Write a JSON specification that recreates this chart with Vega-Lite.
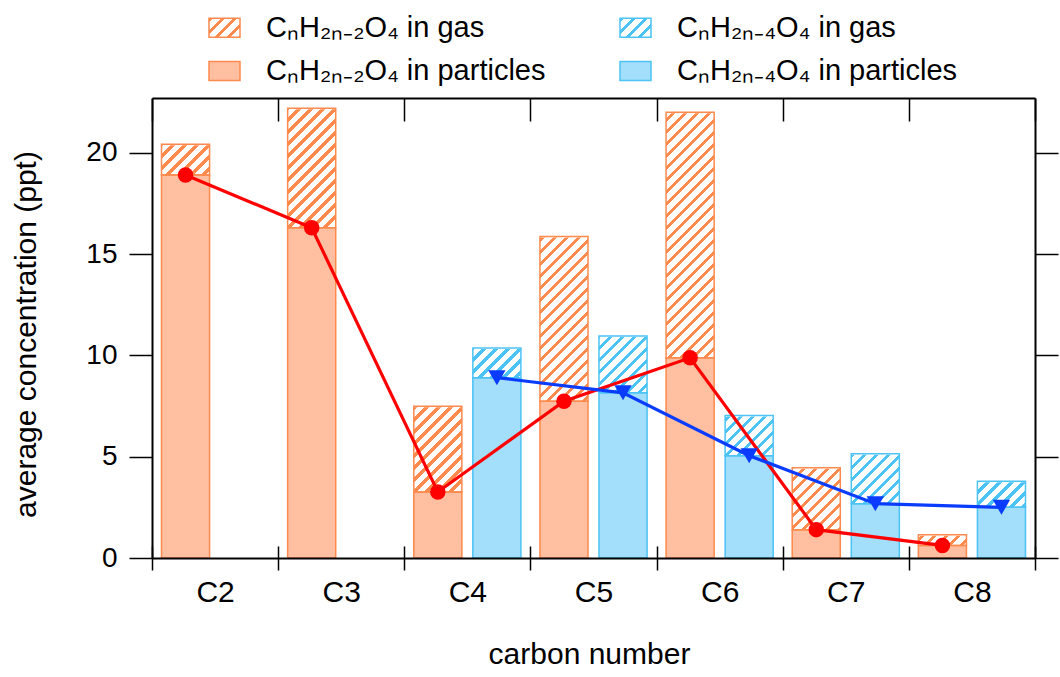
{
  "$schema": "https://vega.github.io/schema/vega-lite/v6.json",
  "width": 883,
  "height": 460,
  "autosize": {"type": "none"},
  "padding": {"left": 152, "top": 98, "right": 25, "bottom": 119},
  "background": "white",
  "config": {
    "view": {"stroke": null},
    "axis": {"labelFont": "Liberation Sans", "titleFont": "Liberation Sans", "labelColor": "#000", "titleColor": "#000", "tickColor": "#000", "domainColor": "#000", "domainWidth": 2, "tickWidth": 1.5, "grid": false, "titleFontWeight": "normal"},
    "legend": {"labelFont": "Liberation Sans", "labelColor": "#000"}
  },
  "datasets": {
    "bars": [
      {"c": "C2", "fam": "a", "plabel": "CₙH₂ₙ₋₂O₄ in particles", "part": 18.9, "total": 20.42},
      {"c": "C3", "fam": "a", "plabel": "CₙH₂ₙ₋₂O₄ in particles", "part": 16.3, "total": 22.2},
      {"c": "C4", "fam": "a", "plabel": "CₙH₂ₙ₋₂O₄ in particles", "part": 3.26, "total": 7.49},
      {"c": "C4", "fam": "b", "plabel": "CₙH₂ₙ₋₄O₄ in particles", "part": 8.9, "total": 10.36},
      {"c": "C5", "fam": "a", "plabel": "CₙH₂ₙ₋₂O₄ in particles", "part": 7.74, "total": 15.87},
      {"c": "C5", "fam": "b", "plabel": "CₙH₂ₙ₋₄O₄ in particles", "part": 8.15, "total": 10.95},
      {"c": "C6", "fam": "a", "plabel": "CₙH₂ₙ₋₂O₄ in particles", "part": 9.88, "total": 22.0},
      {"c": "C6", "fam": "b", "plabel": "CₙH₂ₙ₋₄O₄ in particles", "part": 5.05, "total": 7.03},
      {"c": "C7", "fam": "a", "plabel": "CₙH₂ₙ₋₂O₄ in particles", "part": 1.4, "total": 4.45},
      {"c": "C7", "fam": "b", "plabel": "CₙH₂ₙ₋₄O₄ in particles", "part": 2.68, "total": 5.15},
      {"c": "C8", "fam": "a", "plabel": "CₙH₂ₙ₋₂O₄ in particles", "part": 0.62, "total": 1.15},
      {"c": "C8", "fam": "b", "plabel": "CₙH₂ₙ₋₄O₄ in particles", "part": 2.5, "total": 3.79}
    ]
  },
  "data": {"name": "bars"},
  "resolve": {"axis": {"x": "independent", "y": "independent"}},
  "encoding": {
    "x": {"field": "c", "type": "nominal", "scale": {"domain": ["C2", "C3", "C4", "C5", "C6", "C7", "C8"], "paddingInner": 0, "paddingOuter": 0}},
    "xOffset": {"field": "fam", "type": "nominal", "scale": {"domain": ["a", "b"], "paddingInner": 0.186, "paddingOuter": 0.161}}
  },
  "layer": [
    {
      "mark": {"type": "bar", "strokeWidth": 0},
      "encoding": {
        "x": {"field": "c", "type": "nominal", "axis": {"orient": "bottom", "tickBand": "extent", "tickSize": 12, "labelPadding": 31, "labelBaseline": "alphabetic", "labelFontSize": 30, "labelAngle": 0, "title": "carbon number", "titleFontSize": 30, "titleX": 437, "titleY": 105, "titleBaseline": "alphabetic", "titleAlign": "center", "domain": true, "zindex": 1}},
        "y": {"datum": 22.3, "type": "quantitative", "scale": {"domain": [0, 22.7], "nice": false, "zero": true}, "axis": {"orient": "left", "values": [0, 5, 10, 15, 20], "tickSize": 23, "labelPadding": 12, "labelFontSize": 28, "title": "average concentration (ppt)", "titleFontSize": 30, "titleX": -117, "titleY": 236, "titleAngle": -90, "titleBaseline": "alphabetic", "titleAlign": "center", "domain": true, "zindex": 1}},
        "y2": {"datum": 0},
        "fill": {"condition": {"test": "datum.fam === 'b'", "value": "#4CC3F5"}, "value": "#FF8A4D"}
      }
    },
    {
      "mark": {"type": "bar", "strokeWidth": 0, "fill": {"gradient": "linear", "x1": 0, "y1": 0, "x2": 0.1164, "y2": 1.0941, "stops": [
        {"offset": 0, "color": "transparent"}, {"offset": 0.009, "color": "transparent"}, {"offset": 0.009, "color": "#ffffff"}, {"offset": 0.024, "color": "#ffffff"},
        {"offset": 0.024, "color": "transparent"}, {"offset": 0.033, "color": "transparent"}, {"offset": 0.033, "color": "#ffffff"}, {"offset": 0.048, "color": "#ffffff"},
        {"offset": 0.048, "color": "transparent"}, {"offset": 0.057, "color": "transparent"}, {"offset": 0.057, "color": "#ffffff"}, {"offset": 0.072, "color": "#ffffff"},
        {"offset": 0.072, "color": "transparent"}, {"offset": 0.081, "color": "transparent"}, {"offset": 0.081, "color": "#ffffff"}, {"offset": 0.096, "color": "#ffffff"},
        {"offset": 0.096, "color": "transparent"}, {"offset": 0.105, "color": "transparent"}, {"offset": 0.105, "color": "#ffffff"}, {"offset": 0.12, "color": "#ffffff"},
        {"offset": 0.12, "color": "transparent"}, {"offset": 0.129, "color": "transparent"}, {"offset": 0.129, "color": "#ffffff"}, {"offset": 0.144, "color": "#ffffff"},
        {"offset": 0.144, "color": "transparent"}, {"offset": 0.153, "color": "transparent"}, {"offset": 0.153, "color": "#ffffff"}, {"offset": 0.168, "color": "#ffffff"},
        {"offset": 0.168, "color": "transparent"}, {"offset": 0.177, "color": "transparent"}, {"offset": 0.177, "color": "#ffffff"}, {"offset": 0.192, "color": "#ffffff"},
        {"offset": 0.192, "color": "transparent"}, {"offset": 0.201, "color": "transparent"}, {"offset": 0.201, "color": "#ffffff"}, {"offset": 0.216, "color": "#ffffff"},
        {"offset": 0.216, "color": "transparent"}, {"offset": 0.225, "color": "transparent"}, {"offset": 0.225, "color": "#ffffff"}, {"offset": 0.24, "color": "#ffffff"},
        {"offset": 0.24, "color": "transparent"}, {"offset": 0.249, "color": "transparent"}, {"offset": 0.249, "color": "#ffffff"}, {"offset": 0.264, "color": "#ffffff"},
        {"offset": 0.264, "color": "transparent"}, {"offset": 0.273, "color": "transparent"}, {"offset": 0.273, "color": "#ffffff"}, {"offset": 0.288, "color": "#ffffff"},
        {"offset": 0.288, "color": "transparent"}, {"offset": 0.297, "color": "transparent"}, {"offset": 0.297, "color": "#ffffff"}, {"offset": 0.312, "color": "#ffffff"},
        {"offset": 0.312, "color": "transparent"}, {"offset": 0.321, "color": "transparent"}, {"offset": 0.321, "color": "#ffffff"}, {"offset": 0.336, "color": "#ffffff"},
        {"offset": 0.336, "color": "transparent"}, {"offset": 0.345, "color": "transparent"}, {"offset": 0.345, "color": "#ffffff"}, {"offset": 0.36, "color": "#ffffff"},
        {"offset": 0.36, "color": "transparent"}, {"offset": 0.369, "color": "transparent"}, {"offset": 0.369, "color": "#ffffff"}, {"offset": 0.384, "color": "#ffffff"},
        {"offset": 0.384, "color": "transparent"}, {"offset": 0.393, "color": "transparent"}, {"offset": 0.393, "color": "#ffffff"}, {"offset": 0.408, "color": "#ffffff"},
        {"offset": 0.408, "color": "transparent"}, {"offset": 0.417, "color": "transparent"}, {"offset": 0.417, "color": "#ffffff"}, {"offset": 0.432, "color": "#ffffff"},
        {"offset": 0.432, "color": "transparent"}, {"offset": 0.441, "color": "transparent"}, {"offset": 0.441, "color": "#ffffff"}, {"offset": 0.456, "color": "#ffffff"},
        {"offset": 0.456, "color": "transparent"}, {"offset": 0.465, "color": "transparent"}, {"offset": 0.465, "color": "#ffffff"}, {"offset": 0.48, "color": "#ffffff"},
        {"offset": 0.48, "color": "transparent"}, {"offset": 0.489, "color": "transparent"}, {"offset": 0.489, "color": "#ffffff"}, {"offset": 0.504, "color": "#ffffff"},
        {"offset": 0.504, "color": "transparent"}, {"offset": 0.513, "color": "transparent"}, {"offset": 0.513, "color": "#ffffff"}, {"offset": 0.528, "color": "#ffffff"},
        {"offset": 0.528, "color": "transparent"}, {"offset": 0.537, "color": "transparent"}, {"offset": 0.537, "color": "#ffffff"}, {"offset": 0.552, "color": "#ffffff"},
        {"offset": 0.552, "color": "transparent"}, {"offset": 0.561, "color": "transparent"}, {"offset": 0.561, "color": "#ffffff"}, {"offset": 0.576, "color": "#ffffff"},
        {"offset": 0.576, "color": "transparent"}, {"offset": 0.585, "color": "transparent"}, {"offset": 0.585, "color": "#ffffff"}, {"offset": 0.6, "color": "#ffffff"},
        {"offset": 0.6, "color": "transparent"}, {"offset": 0.609, "color": "transparent"}, {"offset": 0.609, "color": "#ffffff"}, {"offset": 0.624, "color": "#ffffff"},
        {"offset": 0.624, "color": "transparent"}, {"offset": 0.633, "color": "transparent"}, {"offset": 0.633, "color": "#ffffff"}, {"offset": 0.648, "color": "#ffffff"},
        {"offset": 0.648, "color": "transparent"}, {"offset": 0.657, "color": "transparent"}, {"offset": 0.657, "color": "#ffffff"}, {"offset": 0.672, "color": "#ffffff"},
        {"offset": 0.672, "color": "transparent"}, {"offset": 0.681, "color": "transparent"}, {"offset": 0.681, "color": "#ffffff"}, {"offset": 0.696, "color": "#ffffff"},
        {"offset": 0.696, "color": "transparent"}, {"offset": 0.705, "color": "transparent"}, {"offset": 0.705, "color": "#ffffff"}, {"offset": 0.72, "color": "#ffffff"},
        {"offset": 0.72, "color": "transparent"}, {"offset": 0.729, "color": "transparent"}, {"offset": 0.729, "color": "#ffffff"}, {"offset": 0.744, "color": "#ffffff"},
        {"offset": 0.744, "color": "transparent"}, {"offset": 0.753, "color": "transparent"}, {"offset": 0.753, "color": "#ffffff"}, {"offset": 0.768, "color": "#ffffff"},
        {"offset": 0.768, "color": "transparent"}, {"offset": 0.777, "color": "transparent"}, {"offset": 0.777, "color": "#ffffff"}, {"offset": 0.792, "color": "#ffffff"},
        {"offset": 0.792, "color": "transparent"}, {"offset": 0.801, "color": "transparent"}, {"offset": 0.801, "color": "#ffffff"}, {"offset": 0.816, "color": "#ffffff"},
        {"offset": 0.816, "color": "transparent"}, {"offset": 0.825, "color": "transparent"}, {"offset": 0.825, "color": "#ffffff"}, {"offset": 0.84, "color": "#ffffff"},
        {"offset": 0.84, "color": "transparent"}, {"offset": 0.849, "color": "transparent"}, {"offset": 0.849, "color": "#ffffff"}, {"offset": 0.864, "color": "#ffffff"},
        {"offset": 0.864, "color": "transparent"}, {"offset": 0.873, "color": "transparent"}, {"offset": 0.873, "color": "#ffffff"}, {"offset": 0.888, "color": "#ffffff"},
        {"offset": 0.888, "color": "transparent"}, {"offset": 0.897, "color": "transparent"}, {"offset": 0.897, "color": "#ffffff"}, {"offset": 0.912, "color": "#ffffff"},
        {"offset": 0.912, "color": "transparent"}, {"offset": 0.921, "color": "transparent"}, {"offset": 0.921, "color": "#ffffff"}, {"offset": 0.936, "color": "#ffffff"},
        {"offset": 0.936, "color": "transparent"}, {"offset": 0.945, "color": "transparent"}, {"offset": 0.945, "color": "#ffffff"}, {"offset": 0.96, "color": "#ffffff"},
        {"offset": 0.96, "color": "transparent"}, {"offset": 0.969, "color": "transparent"}, {"offset": 0.969, "color": "#ffffff"}, {"offset": 0.984, "color": "#ffffff"},
        {"offset": 0.984, "color": "transparent"}, {"offset": 0.993, "color": "transparent"}, {"offset": 0.993, "color": "#ffffff"}, {"offset": 1, "color": "#ffffff"}
      ]}},
      "encoding": {
        "x": {"field": "c", "type": "nominal", "axis": {"orient": "top", "tickBand": "extent", "tickSize": -23, "labels": false, "title": null, "domain": true, "zindex": 1}},
        "y": {"datum": 22.3, "type": "quantitative", "axis": {"orient": "right", "values": [0, 5, 10, 15, 20], "tickSize": 23, "labels": false, "title": null, "domain": true, "zindex": 1}},
        "y2": {"datum": 0}
      }
    },
    {
      "mark": {"type": "bar", "fill": "#ffffff", "stroke": "#ffffff", "strokeWidth": 2},
      "encoding": {
        "x": {"field": "c", "type": "nominal", "axis": {"orient": "bottom", "tickBand": "extent", "tickSize": -12, "labels": false, "title": null, "domain": false}},
        "y": {"field": "total", "type": "quantitative", "axis": null},
        "y2": {"datum": 22.3}
      }
    },
    {
      "mark": {"type": "bar", "strokeWidth": 1.5, "opacity": 1},
      "encoding": {
        "x": {"field": "c", "type": "nominal", "axis": null},
        "y": {"field": "part", "type": "quantitative", "axis": null},
        "y2": {"datum": 0},
        "fill": {"field": "plabel", "type": "nominal",
          "scale": {"domain": ["CₙH₂ₙ₋₂O₄ in gas", "CₙH₂ₙ₋₂O₄ in particles", "CₙH₂ₙ₋₄O₄ in gas", "CₙH₂ₙ₋₄O₄ in particles"],
            "range": [
              {"expr": "{gradient: 'linear', x1: 0, y1: 0, x2: 1.1725, y2: 0.7186, stops: [{offset: 0, color: '#FF8A4D'}, {offset: 0.08, color: '#FF8A4D'}, {offset: 0.08, color: '#ffffff'}, {offset: 0.24, color: '#ffffff'}, {offset: 0.24, color: '#FF8A4D'}, {offset: 0.32, color: '#FF8A4D'}, {offset: 0.32, color: '#ffffff'}, {offset: 0.48, color: '#ffffff'}, {offset: 0.48, color: '#FF8A4D'}, {offset: 0.56, color: '#FF8A4D'}, {offset: 0.56, color: '#ffffff'}, {offset: 0.72, color: '#ffffff'}, {offset: 0.72, color: '#FF8A4D'}, {offset: 0.8, color: '#FF8A4D'}, {offset: 0.8, color: '#ffffff'}, {offset: 0.96, color: '#ffffff'}, {offset: 0.96, color: '#FF8A4D'}, {offset: 1, color: '#FF8A4D'}]}"},
              "#FFBFA0",
              {"expr": "{gradient: 'linear', x1: 0, y1: 0, x2: 1.1725, y2: 0.7186, stops: [{offset: 0, color: '#4CC3F5'}, {offset: 0.08, color: '#4CC3F5'}, {offset: 0.08, color: '#ffffff'}, {offset: 0.24, color: '#ffffff'}, {offset: 0.24, color: '#4CC3F5'}, {offset: 0.32, color: '#4CC3F5'}, {offset: 0.32, color: '#ffffff'}, {offset: 0.48, color: '#ffffff'}, {offset: 0.48, color: '#4CC3F5'}, {offset: 0.56, color: '#4CC3F5'}, {offset: 0.56, color: '#ffffff'}, {offset: 0.72, color: '#ffffff'}, {offset: 0.72, color: '#4CC3F5'}, {offset: 0.8, color: '#4CC3F5'}, {offset: 0.8, color: '#ffffff'}, {offset: 0.96, color: '#ffffff'}, {offset: 0.96, color: '#4CC3F5'}, {offset: 1, color: '#4CC3F5'}]}"},
              "#A3DEFA"
            ]},
          "legend": {"orient": "none", "legendX": 56, "legendY": -87, "columns": 2, "direction": "vertical", "title": null, "padding": 0,
            "symbolType": "M-1,-0.613H1V0.613H-1Z", "symbolSize": 961, "symbolStrokeWidth": 1.5, "symbolOpacity": 1,
            "labelFontSize": 29, "labelOffset": 25, "labelLimit": 500, "rowPadding": 11.5, "columnPadding": 71}
        },
        "stroke": {"field": "plabel", "type": "nominal",
          "scale": {"domain": ["CₙH₂ₙ₋₂O₄ in gas", "CₙH₂ₙ₋₂O₄ in particles", "CₙH₂ₙ₋₄O₄ in gas", "CₙH₂ₙ₋₄O₄ in particles"], "range": ["#FF8A4D", "#FF8A4D", "#4CC3F5", "#4CC3F5"]},
          "legend": {"orient": "none", "legendX": 56, "legendY": -87, "columns": 2, "direction": "vertical", "title": null, "padding": 0,
            "symbolType": "M-1,-0.613H1V0.613H-1Z", "symbolSize": 961, "symbolStrokeWidth": 1.5, "symbolOpacity": 1,
            "labelFontSize": 29, "labelOffset": 25, "labelLimit": 500, "rowPadding": 11.5, "columnPadding": 71}
        }
      }
    },
    {
      "mark": {"type": "bar", "strokeWidth": 1.5, "fillOpacity": 0},
      "encoding": {
        "x": {"field": "c", "type": "nominal", "axis": null},
        "y": {"field": "part", "type": "quantitative", "axis": null},
        "y2": {"field": "total"},
        "stroke": {"field": "plabel", "type": "nominal", "legend": null}
      }
    },
    {
      "mark": {"type": "line", "strokeWidth": 3.2},
      "encoding": {
        "x": {"field": "c", "type": "nominal", "axis": null},
        "y": {"field": "part", "type": "quantitative", "axis": null},
        "color": {"field": "fam", "type": "nominal", "scale": {"domain": ["a", "b"], "range": ["#FF0000", "#0A3CFF"]}, "legend": null}
      }
    },
    {
      "mark": {"type": "point", "filled": true, "opacity": 1},
      "encoding": {
        "x": {"field": "c", "type": "nominal", "axis": null},
        "y": {"field": "part", "type": "quantitative", "axis": null},
        "size": {"condition": {"test": "datum.fam === 'b'", "value": 300}, "value": 240},
        "color": {"field": "fam", "type": "nominal", "scale": {"domain": ["a", "b"], "range": ["#FF0000", "#0A3CFF"]}, "legend": null},
        "shape": {"field": "fam", "type": "nominal", "scale": {"domain": ["a", "b"], "range": ["circle", "triangle-down"]}, "legend": null}
      }
    }
  ]
}
